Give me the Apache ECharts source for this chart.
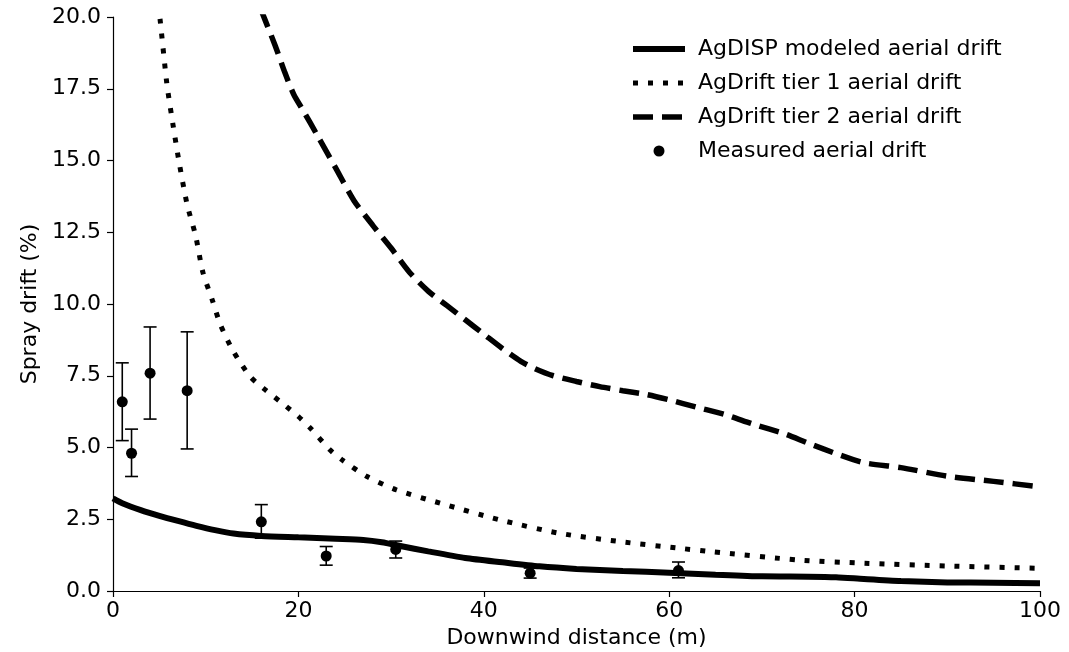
<!DOCTYPE html>
<html>
<head>
<meta charset="utf-8">
<script src="https://cdn.jsdelivr.net/npm/echarts@6/dist/echarts.min.js"></script>
<style>
html,body{margin:0;padding:0;background:#fff;}
#chart{width:1069px;height:652px;}
</style>
</head>
<body>
<div id="chart"></div>
<script>
// ---- data ----
const agdispX = [0,1,3,5,7,9,11,13,16,20,24,27,29,31,34,38,42,46,50,55,60,65,70,75,78,81,85,90,95,100];
const agdispY = [3.23,3.06,2.82,2.62,2.44,2.27,2.12,2.0,1.92,1.87,1.82,1.78,1.7,1.57,1.38,1.15,1.0,0.86,0.77,0.70,0.64,0.57,0.51,0.5,0.48,0.42,0.35,0.3,0.29,0.27];

const tier1X = [4.5,5.1,5.8,6.3,7.1,8.0,8.9,9.7,10.7,11.6,13,14.8,16.2,18.7,20,21.3,23.4,24.7,27.4,30.6,35.3,41.7,48.2,54.7,61.1,64.5,74,81,90,100];
const tier1Y = [21.5,19.85,17.7,16.6,15.0,13.46,12.4,11.1,10.15,9.27,8.34,7.47,7.07,6.43,6.08,5.67,4.92,4.57,3.99,3.52,3.06,2.48,2.01,1.72,1.49,1.37,1.08,0.97,0.87,0.79];

const tier2X = [15.9,16.4,17.5,18.5,19.5,20.5,22,24,26,28,30,32,34,36,38,40,42,44,45.5,47.5,50,52.5,55,57.5,60,63,66,69,72.5,75,78.4,81,85,90,95,100];
const tier2Y = [20.3,19.9,19.0,18.1,17.3,16.75,15.9,14.75,13.6,12.75,11.95,11.1,10.45,9.95,9.45,8.95,8.45,8.0,7.75,7.5,7.3,7.12,6.98,6.85,6.66,6.4,6.15,5.82,5.47,5.15,4.74,4.47,4.3,4.0,3.82,3.63];

const measX    = [1,2,4,8,16,23,30.5,45,61];
const measY    = [6.59,4.80,7.59,6.98,2.41,1.22,1.45,0.62,0.71];
const measLow  = [5.24,3.99,5.99,4.95,1.84,0.90,1.15,0.45,0.46];
const measHigh = [7.95,5.64,9.2,9.03,3.01,1.55,1.74,0.80,1.01];

const xTicks = [0,20,40,60,80,100];
const yTicks = [0,2.5,5,7.5,10,12.5,15,17.5,20];

const names = ['AgDISP modeled aerial drift','AgDrift tier 1 aerial drift','AgDrift tier 2 aerial drift','Measured aerial drift'];

// ---- build ----
const zip = (xs, ys) => xs.map((x, i) => [x, ys[i]]);
const FONT = 'DejaVu Sans';
const chart = echarts.init(document.getElementById('chart'), null, {renderer: 'canvas'});

const solidStyle  = {color: '#000', width: 6, type: 'solid', cap: 'butt'};
const dottedStyle = {color: '#000', width: 5, type: [5, 10], cap: 'butt'};
const dashedStyle = {color: '#000', width: 5.5, type: [20, 9], cap: 'butt'};

const option = {
  backgroundColor: '#fff',
  animation: false,
  textStyle: {fontFamily: FONT, color: '#000'},
  grid: {left: 113, right: 29, top: 17, bottom: 61, containLabel: false, outerBoundsMode: 'none'},
  legend: {
    orient: 'vertical',
    left: 625,
    top: 33,
    itemWidth: 52,
    itemHeight: 11,
    itemGap: 12,
    selectedMode: false,
    textStyle: {fontFamily: FONT, fontSize: 22, color: '#000', padding: [0, 0, 0, 8]},
    data: [
      {name: names[0], itemStyle: {opacity: 0}, lineStyle: solidStyle},
      {name: names[1], itemStyle: {opacity: 0}, lineStyle: dottedStyle},
      {name: names[2], itemStyle: {opacity: 0}, lineStyle: dashedStyle},
      {name: names[3]}
    ]
  },
  xAxis: {
    type: 'value',
    min: xTicks[0], max: xTicks[xTicks.length - 1], interval: 20,
    name: 'Downwind distance (m)',
    nameLocation: 'middle',
    nameGap: 36,
    nameTextStyle: {fontFamily: FONT, fontSize: 22, color: '#000'},
    axisLine: {show: true, onZero: false, lineStyle: {color: '#000', width: 1.2}},
    axisTick: {show: true, inside: false, length: 6, lineStyle: {color: '#000', width: 1.2}},
    axisLabel: {fontFamily: FONT, fontSize: 22, color: '#000', margin: 9},
    splitLine: {show: false}
  },
  yAxis: {
    type: 'value',
    min: yTicks[0], max: yTicks[yTicks.length - 1], interval: 2.5,
    name: 'Spray drift (%)',
    nameLocation: 'middle',
    nameGap: 71,
    nameRotate: 90,
    nameTextStyle: {fontFamily: FONT, fontSize: 22, color: '#000'},
    axisLine: {show: true, onZero: false, lineStyle: {color: '#000', width: 1.2}},
    axisTick: {show: true, inside: false, length: 6, lineStyle: {color: '#000', width: 1.2}},
    axisLabel: {fontFamily: FONT, fontSize: 22, color: '#000', margin: 12,
      formatter: v => v.toFixed(1)},
    splitLine: {show: false}
  },
  series: [
    {
      name: names[0], type: 'line', data: zip(agdispX, agdispY),
      symbol: 'none', smooth: 0.25, clip: true,
      lineStyle: solidStyle, itemStyle: {color: '#000'}, z: 2
    },
    {
      name: names[1], type: 'line', data: zip(tier1X, tier1Y),
      symbol: 'none', smooth: 0.25, clip: true,
      lineStyle: dottedStyle, itemStyle: {color: '#000'}, z: 2
    },
    {
      name: names[2], type: 'line', data: zip(tier2X, tier2Y),
      symbol: 'none', smooth: 0.25, clip: true,
      lineStyle: dashedStyle, itemStyle: {color: '#000'}, z: 2
    },
    {
      name: 'errorbars', type: 'custom', z: 3, silent: true,
      data: measX.map((x, i) => [x, measLow[i], measHigh[i]]),
      encode: {x: 0, y: [1, 2]},
      renderItem: function (params, api) {
        const lo = api.coord([api.value(0), api.value(1)]);
        const hi = api.coord([api.value(0), api.value(2)]);
        const hw = 6.5;
        const st = {stroke: '#000', lineWidth: 1.6};
        return {
          type: 'group',
          children: [
            {type: 'line', shape: {x1: lo[0], y1: lo[1], x2: hi[0], y2: hi[1]}, style: st},
            {type: 'line', shape: {x1: lo[0] - hw, y1: lo[1], x2: lo[0] + hw, y2: lo[1]}, style: st},
            {type: 'line', shape: {x1: hi[0] - hw, y1: hi[1], x2: hi[0] + hw, y2: hi[1]}, style: st}
          ]
        };
      }
    },
    {
      name: names[3], type: 'scatter', data: zip(measX, measY),
      symbol: 'circle', symbolSize: 11, z: 4,
      itemStyle: {color: '#000', opacity: 1}
    }
  ]
};
chart.setOption(option);
</script>
</body>
</html>
